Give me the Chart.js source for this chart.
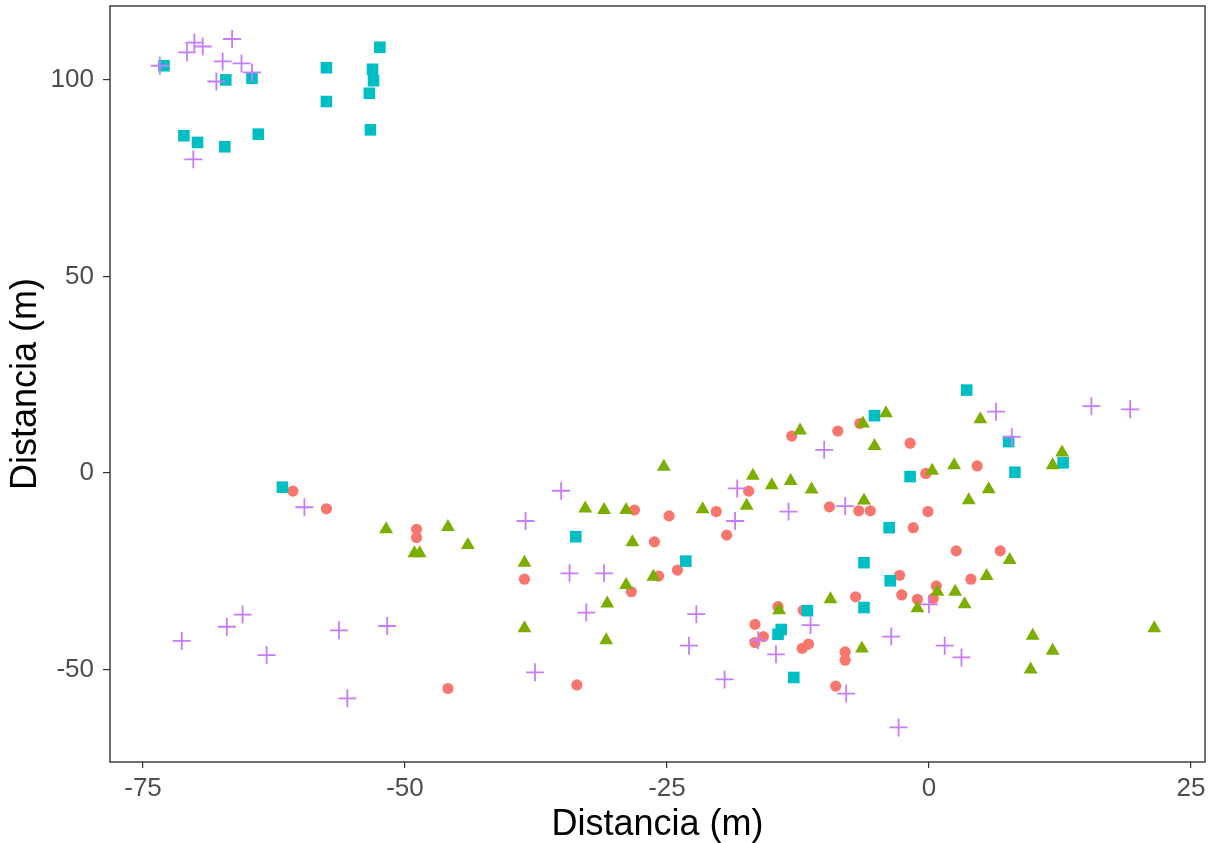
<!DOCTYPE html>
<html>
<head>
<meta charset="utf-8">
<script src="https://cdn.jsdelivr.net/npm/chart.js@4.4.1/dist/chart.umd.min.js"></script>
<style>
  html, body { margin: 0; padding: 0; background: #ffffff; }
  #wrap { width: 1212px; height: 843px; position: relative; }
</style>
</head>
<body>
<div id="wrap"><canvas id="grafico"></canvas></div>
<script>
// Axis ticks and limits
const X_TICKS = [-75, -50, -25, 0, 25];
const Y_TICKS = [-50, 0, 50, 100];
const X_RANGE = [-78.15, 26.34];
const Y_RANGE = [-73.5, 118.8];

// Point positions [x, y] in metres, one list per group
const grupo1 = [ // circles
  [-60.7, -4.6], [-57.5, -9.1], [-48.9, -14.3], [-48.9, -16.4], [-45.9, -54.8],
  [-28.1, -9.4], [-24.8, -10.9], [-20.3, -9.8], [-19.3, -15.8], [-26.2, -17.5],
  [-38.6, -27.0], [-24.0, -24.7], [-25.8, -26.2], [-28.4, -30.2], [-33.6, -53.9],
  [-6.6, 12.6], [-13.1, 9.4], [-8.7, 10.7], [-1.8, 7.6], [-0.3, -0.1],
  [-17.2, -4.6], [-9.5, -8.6], [-6.7, -9.6], [-5.6, -9.6], [-0.1, -9.8],
  [-1.5, -13.9], [2.6, -19.8], [-2.8, -26.0], [-2.6, -31.0], [-1.1, -32.1],
  [0.4, -31.9], [0.7, -28.7], [4.0, -27.0], [-7.0, -31.5], [-14.4, -34.0],
  [-12.0, -34.9], [-16.6, -38.5], [-16.6, -43.1], [-15.8, -41.6], [-12.1, -44.6],
  [-11.5, -43.5], [-8.0, -45.5], [-8.0, -47.6], [-8.9, -54.2], [4.6, 1.8],
  [6.8, -19.8]
];

const grupo2 = [ // triangles
  [-51.8, -14.3], [-45.9, -13.7], [-44.0, -18.3], [-49.1, -20.4], [-48.6, -20.4],
  [-25.3, 1.6], [-32.8, -9.0], [-31.0, -9.4], [-28.9, -9.4], [-21.6, -9.2],
  [-28.3, -17.6], [-38.6, -22.8], [-26.3, -26.4], [-28.9, -28.5], [-30.7, -33.2],
  [-38.6, -39.5], [-30.8, -42.5], [-4.1, 15.2], [-6.3, 12.6], [-12.3, 10.8],
  [-5.2, 6.9], [2.4, 2.0], [0.3, 0.6], [-16.8, -0.7], [-15.0, -3.1],
  [-13.2, -2.0], [-11.2, -4.2], [-17.4, -8.3], [-6.2, -7.0], [3.8, -6.9],
  [0.8, -30.2], [-1.1, -34.4], [2.5, -30.2], [3.4, -33.4], [-9.4, -32.1],
  [-14.3, -34.9], [-6.4, -44.6], [4.9, 13.7], [12.7, 5.2], [11.8, 2.0],
  [5.7, -4.1], [7.7, -22.1], [5.5, -26.2], [21.5, -39.5], [9.9, -41.4],
  [11.8, -45.2], [9.7, -50.0]
];

const grupo3 = [ // squares
  [-73.0, 103.6], [-67.1, 100.0], [-64.6, 100.4], [-57.5, 103.1], [-57.5, 94.5],
  [-52.4, 108.3], [-53.1, 102.7], [-53.0, 99.8], [-53.4, 96.6], [-53.3, 87.3],
  [-71.1, 85.8], [-69.8, 84.1], [-67.2, 83.0], [-64.0, 86.2], [-61.7, -3.6],
  [-33.7, -16.2], [-23.2, -22.4], [3.6, 21.1], [-5.2, 14.6], [-1.8, -0.9],
  [-3.8, -13.9], [-6.2, -22.8], [-3.7, -27.4], [-6.2, -34.2], [-11.6, -35.0],
  [-14.1, -39.8], [-14.4, -41.0], [-12.9, -52.0], [7.6, 8.0], [12.8, 2.6],
  [8.2, 0.2]
];

const grupo4 = [ // crosses
  [-73.4, 103.6], [-70.8, 107.0], [-70.1, 109.5], [-69.3, 108.5], [-66.5, 110.4],
  [-67.4, 104.7], [-65.6, 104.2], [-64.6, 101.9], [-68.0, 99.6], [-70.2, 79.8],
  [-71.3, -42.7], [-67.0, -39.1], [-65.5, -36.0], [-63.2, -46.3], [-59.6, -8.7],
  [-56.3, -40.0], [-51.7, -38.9], [-55.5, -57.3], [-35.1, -4.5], [-18.3, -3.9],
  [-18.5, -12.2], [-38.5, -12.2], [-34.3, -25.5], [-31.0, -25.5], [-32.7, -35.5],
  [-22.2, -35.9], [-22.9, -43.9], [-37.6, -50.7], [-19.5, -52.5], [-10.0, 5.9],
  [-13.4, -9.8], [-8.0, -8.4], [0.0, -33.4], [-11.3, -38.7], [-16.3, -42.5],
  [-14.6, -46.1], [-3.6, -41.6], [1.5, -43.9], [3.1, -46.9], [-7.9, -56.1],
  [-2.9, -64.7], [6.4, 15.6], [15.5, 17.0], [19.2, 16.2], [7.9, 9.2]
];

const FONT = "'Liberation Sans', Arial, sans-serif";
const toPoints = arr => arr.map(([x, y]) => ({ x, y }));

// Frame around the plotting panel
const panelBorder = {
  id: 'panelBorder',
  afterDraw(chart) {
    const { ctx, chartArea: a } = chart;
    ctx.save();
    ctx.strokeStyle = '#333333';
    ctx.lineWidth = 1.4;
    ctx.strokeRect(a.left, a.top, a.right - a.left, a.bottom - a.top);
    ctx.restore();
  }
};

new Chart(document.getElementById('grafico'), {
  type: 'scatter',
  data: {
    datasets: [
      { data: toPoints(grupo4), pointStyle: 'cross', pointRadius: 9,
        borderColor: '#C77CFF', backgroundColor: '#C77CFF', borderWidth: 1.8 },
      { data: toPoints(grupo2), pointStyle: 'triangle', pointRadius: 8,
        backgroundColor: '#7CAE00', borderColor: '#7CAE00', borderWidth: 0 },
      { data: toPoints(grupo3), pointStyle: 'rect', pointRadius: 8.2,
        backgroundColor: '#00BFC4', borderColor: '#00BFC4', borderWidth: 0 },
      { data: toPoints(grupo1), pointStyle: 'circle', pointRadius: 5.6,
        backgroundColor: '#F8766D', borderColor: '#F8766D', borderWidth: 0 }
    ]
  },
  options: {
    responsive: true,
    maintainAspectRatio: false,
    animation: false,
    events: [],
    layout: { autoPadding: false, padding: { top: 6, right: 7, bottom: 0, left: 0 } },
    plugins: { legend: { display: false }, tooltip: { enabled: false } },
    scales: {
      x: {
        type: 'linear',
        min: X_RANGE[0],
        max: X_RANGE[1],
        afterBuildTicks: s => { s.ticks = X_TICKS.map(v => ({ value: v })); },
        afterFit: s => { s.height = 81; s.paddingLeft = 0; s.paddingRight = 0; },
        border: { display: false },
        grid: { drawOnChartArea: false, drawTicks: true, tickLength: 6, color: '#333333', lineWidth: 1.2 },
        ticks: { color: '#4D4D4D', padding: 8, maxRotation: 0,
                 font: { family: FONT, size: 26, lineHeight: 1 },
                 callback: v => String(v) },
        title: { display: true, text: 'Distancia (m)', color: '#000000',
                 padding: { top: 0, bottom: 0 },
                 font: { family: FONT, size: 36, lineHeight: 1 } }
      },
      y: {
        type: 'linear',
        min: Y_RANGE[0],
        max: Y_RANGE[1],
        afterBuildTicks: s => { s.ticks = Y_TICKS.map(v => ({ value: v })); },
        afterFit: s => { s.width = 110; s.paddingTop = 0; s.paddingBottom = 0; },
        border: { display: false },
        grid: { drawOnChartArea: false, drawTicks: true, tickLength: 7, color: '#333333', lineWidth: 1.2 },
        ticks: { color: '#4D4D4D', padding: 9,
                 font: { family: FONT, size: 26, lineHeight: 1 },
                 callback: v => String(v) },
        title: { display: true, text: 'Distancia (m)', color: '#000000',
                 padding: { top: 8, bottom: 0 },
                 font: { family: FONT, size: 36, lineHeight: 1 } }
      }
    }
  },
  plugins: [panelBorder]
});
</script>
</body>
</html>
